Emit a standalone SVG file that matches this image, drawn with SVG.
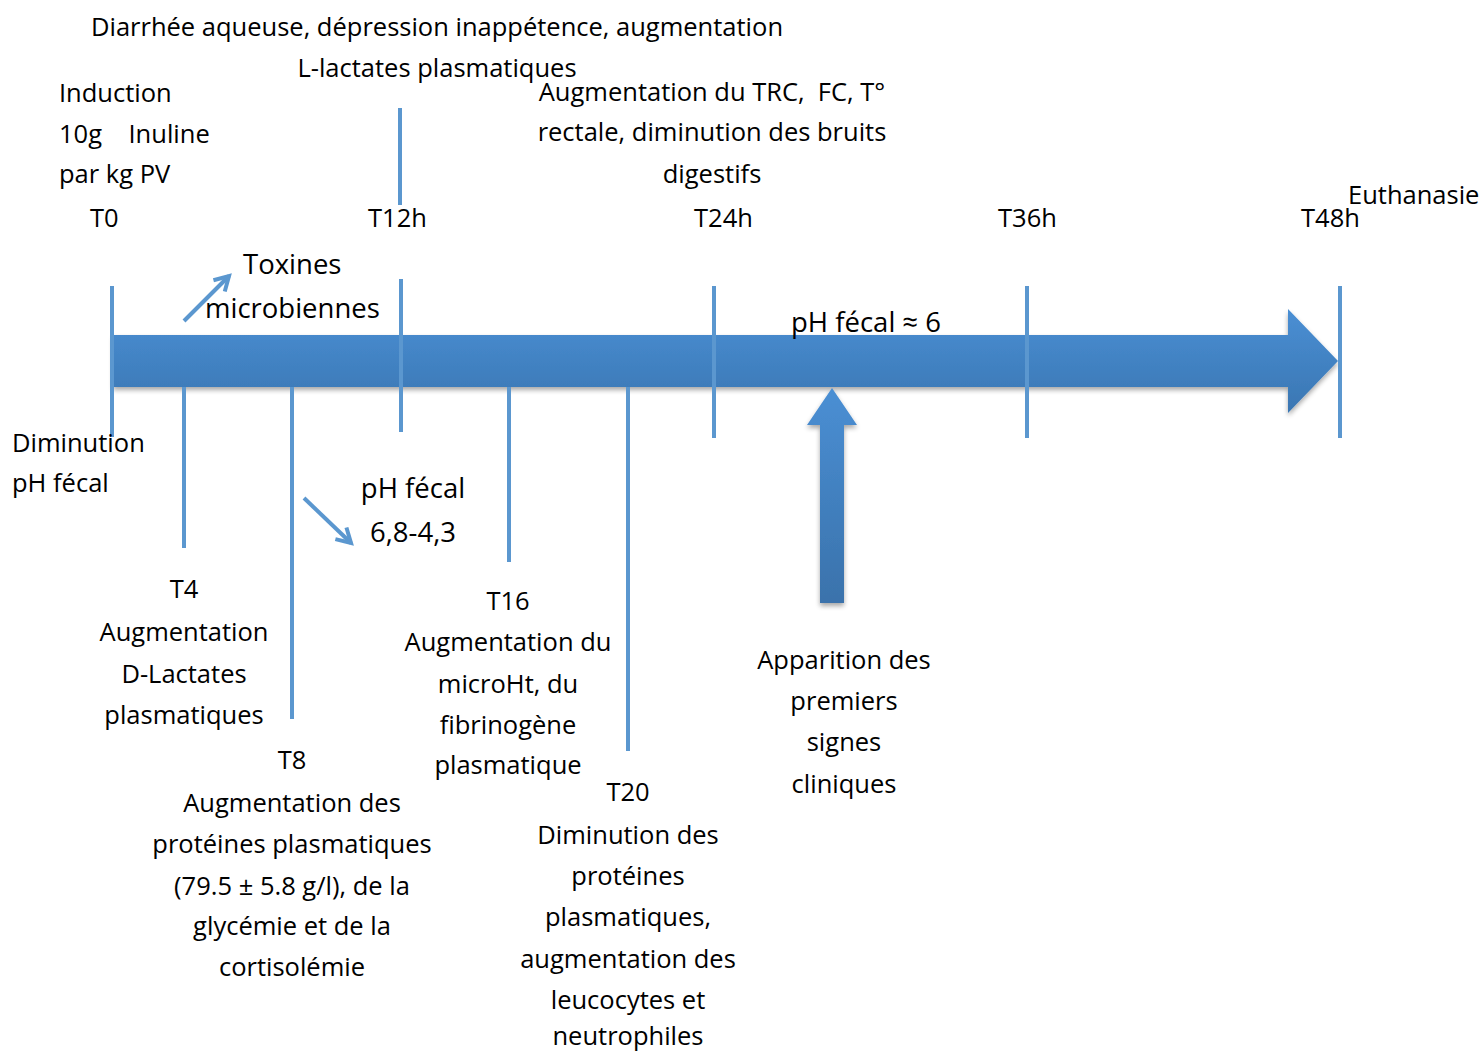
<svg xmlns="http://www.w3.org/2000/svg" width="1482" height="1052" viewBox="0 0 1482 1052">
  <style>
    text { font-family: "Open Sans", "Noto Sans", "Liberation Sans", sans-serif; font-size: 25.5px; fill: #000; }
    .big { font-size: 27.5px; }
    .mid { text-anchor: middle; }
    .tick { stroke: #5b97cf; stroke-width: 4; fill: none; }
    .thin { stroke: #5b97cf; stroke-width: 4; fill: none; stroke-linecap: butt; }
  </style>
  <defs>
    <linearGradient id="barFill" x1="0" y1="0" x2="0" y2="1">
      <stop offset="0" stop-color="#4a8fd4"/>
      <stop offset="1" stop-color="#3a76b2"/>
    </linearGradient>
    <linearGradient id="upFill" x1="0" y1="0" x2="0" y2="1">
      <stop offset="0" stop-color="#4a8fd4"/>
      <stop offset="1" stop-color="#3a72ab"/>
    </linearGradient>
    <filter id="shadow" x="-10%" y="-20%" width="120%" height="150%">
      <feGaussianBlur in="SourceAlpha" stdDeviation="2.5"/>
      <feOffset dx="0" dy="3" result="b"/>
      <feComponentTransfer><feFuncA type="linear" slope="0.35"/></feComponentTransfer>
      <feMerge><feMergeNode/><feMergeNode in="SourceGraphic"/></feMerge>
    </filter>
    <marker id="head" viewBox="0 0 10 10" refX="8" refY="5" markerWidth="5" markerHeight="5" orient="auto" markerUnits="strokeWidth">
      <path d="M1,1 L8,5 L1,9" fill="none" stroke="#5b97cf" stroke-width="2"/>
    </marker>
  </defs>

  <!-- main time axis arrow -->
  <g id="timeline">
    <path d="M113,335 L1288,335 L1288,309 L1338,361 L1288,413 L1288,387 L113,387 Z" fill="url(#barFill)" filter="url(#shadow)"/>
  </g>

  <!-- onset of clinical signs arrow -->
  <g id="clinical-arrow">
    <path d="M820,603 L820,425 L807,425 L832,388 L857,425 L844,425 L844,603 Z" fill="url(#upFill)" filter="url(#shadow)"/>
  </g>

  <g id="connectors">
    <!-- hour marks across the axis -->
    <line class="tick" x1="112" y1="286" x2="112" y2="437"/>
    <line class="tick" x1="401" y1="279" x2="401" y2="432"/>
    <line class="tick" x1="714" y1="286" x2="714" y2="438"/>
    <line class="tick" x1="1027" y1="286" x2="1027" y2="438"/>
    <line class="tick" x1="1340" y1="286" x2="1340" y2="438"/>
    <line class="tick" x1="400" y1="108" x2="400" y2="205"/>
    <!-- intermediate marks below the axis -->
    <line class="tick" x1="184" y1="387" x2="184" y2="548"/>
    <line class="tick" x1="292" y1="387" x2="292" y2="719"/>
    <line class="tick" x1="509" y1="387" x2="509" y2="562"/>
    <line class="tick" x1="628" y1="387" x2="628" y2="751"/>
    <!-- trend arrows -->
    <line class="thin" x1="184" y1="321" x2="229" y2="276" marker-end="url(#head)"/>
    <line class="thin" x1="304" y1="498" x2="351" y2="543" marker-end="url(#head)"/>
  </g>

  <g id="top-labels">
    <text class="mid" x="437" y="36">Diarrhée aqueuse, dépression inappétence, augmentation</text>
    <text class="mid" x="437" y="77">L-lactates plasmatiques</text>
    <text x="59" y="102">Induction</text>
    <text x="59" y="143" xml:space="preserve">10g    Inuline</text>
    <text x="59" y="183">par kg PV</text>
    <text class="mid" x="712" y="101" xml:space="preserve">Augmentation du TRC,  FC, T°</text>
    <text class="mid" x="712" y="141">rectale, diminution des bruits</text>
    <text class="mid" x="712" y="183">digestifs</text>
    <text x="1348" y="204">Euthanasie</text>
  </g>

  <g id="hour-labels">
    <text x="90" y="227">T0</text>
    <text x="368" y="227">T12h</text>
    <text x="694" y="227">T24h</text>
    <text x="998" y="227">T36h</text>
    <text x="1301" y="227">T48h</text>
  </g>

  <g id="toxins">
    <text class="big" x="243" y="274">Toxines</text>
    <text class="big" x="205" y="318">microbiennes</text>
  </g>

  <g id="ph-axis">
    <text class="big" x="791" y="332">pH fécal ≈ 6</text>
  </g>

  <g id="t0-below">
    <text x="12" y="452">Diminution</text>
    <text x="12" y="492">pH fécal</text>
  </g>

  <g id="ph-drop">
    <text class="big mid" x="413" y="498">pH fécal</text>
    <text class="big mid" x="413" y="542">6,8-4,3</text>
  </g>

  <g id="t4">
    <text class="mid" x="184" y="598">T4</text>
    <text class="mid" x="184" y="641">Augmentation</text>
    <text class="mid" x="184" y="683">D-Lactates</text>
    <text class="mid" x="184" y="724">plasmatiques</text>
  </g>

  <g id="t8">
    <text class="mid" x="292" y="769">T8</text>
    <text class="mid" x="292" y="812">Augmentation des</text>
    <text class="mid" x="292" y="853">protéines plasmatiques</text>
    <text class="mid" x="292" y="895">(79.5 ± 5.8 g/l), de la</text>
    <text class="mid" x="292" y="935">glycémie et de la</text>
    <text class="mid" x="292" y="976">cortisolémie</text>
  </g>

  <g id="t16">
    <text class="mid" x="508" y="610">T16</text>
    <text class="mid" x="508" y="651">Augmentation du</text>
    <text class="mid" x="508" y="693">microHt, du</text>
    <text class="mid" x="508" y="734">fibrinogène</text>
    <text class="mid" x="508" y="774">plasmatique</text>
  </g>

  <g id="t20">
    <text class="mid" x="628" y="801">T20</text>
    <text class="mid" x="628" y="844">Diminution des</text>
    <text class="mid" x="628" y="885">protéines</text>
    <text class="mid" x="628" y="926">plasmatiques,</text>
    <text class="mid" x="628" y="968">augmentation des</text>
    <text class="mid" x="628" y="1009">leucocytes et</text>
    <text class="mid" x="628" y="1045">neutrophiles</text>
  </g>

  <g id="clinical-signs">
    <text class="mid" x="844" y="669">Apparition des</text>
    <text class="mid" x="844" y="710">premiers</text>
    <text class="mid" x="844" y="751">signes</text>
    <text class="mid" x="844" y="793">cliniques</text>
  </g>
</svg>
